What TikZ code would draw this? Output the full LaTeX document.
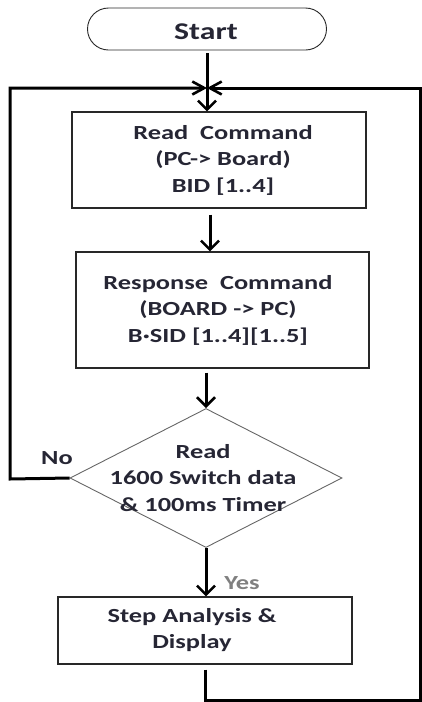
\documentclass[tikz,border=0pt]{standalone}
\usepackage{fontspec}
\setmainfont{Carlito}[FakeStretch=1.32]
\usetikzlibrary{arrows.meta,shapes.geometric}
\definecolor{txt}{RGB}{38,38,52}
\definecolor{yescol}{RGB}{128,128,128}
\definecolor{edge}{RGB}{40,40,40}
\tikzset{
  every node/.style={font=\bfseries\fontsize{20}{26.5}\selectfont, text=txt, align=center},
  procbox/.style={draw=edge, line width=1.1pt, inner sep=0pt},
  termbox/.style={draw=edge, line width=0.9pt, rounded corners=21pt, inner sep=0pt, minimum width=239pt, minimum height=42pt},
  decbox/.style={draw=black!60, line width=0.9pt, shape=diamond, inner sep=0pt, minimum width=272pt, minimum height=139pt},
  flow/.style={line width=3pt, -{Straight Barb[length=9pt,width=18pt,line width=2.6pt]}},
  looparr/.style={line width=3pt, -{Straight Barb[length=12pt,width=13pt,line width=2.6pt]}},
}
\begin{document}
\begin{tikzpicture}[x=1pt,y=-1pt]
\useasboundingbox (0,0) rectangle (422,702);
\node[termbox] (start) at (207,29) {};
\node[font=\bfseries\fontsize{24}{28}\selectfont] (starttxt) at (206,32) {Start};
\coordinate (J) at (207,88);
\node[procbox, minimum width=294pt, minimum height=96pt] (b1) at (219,160) {};
\node (b1t) at (223,160) {Read\ \ Command\\(PC-> Board)\\BID [1..4]};
\node[procbox, minimum width=293pt, minimum height=116pt] (b2) at (222.5,310) {};
\node (b2t) at (218,310) {Response\ \ Command\\(BOARD -> PC)\\B·SID [1..4][1..5]};
\node[decbox] (dia) at (206,478) {};
\node (diat) at (203,478) {Read\\1600 Switch data\\\& 100ms Timer};
\node[procbox, minimum width=294pt, minimum height=67pt] (b3) at (205,630.5) {};
\node (b3t) at (192,630) {Step Analysis \&\\Display};
\node (no) at (57,458) {No};
\node[text=yescol] (yes) at (242,583) {Yes};
\coordinate (L1) at (10,479);
\coordinate (L2) at (10,88);
\coordinate (R1) at (205,700);
\coordinate (R2) at (420,700);
\coordinate (R3) at (420,88);
% connectors
\draw[flow, shorten <=3pt] (start.south) -- (start.south |- b1.north);
\draw[flow, shorten <=6pt] (b1.south -| 210,0) -- (b2.north -| 210,0);
\draw[flow, shorten <=4pt] (b2.south -| dia.north) -- (dia.north);
\draw[flow] (dia.south) -- (b3.north -| dia.south);
\draw[looparr] (dia.west) -- (L1) -- (L2) -- (J);
\draw[looparr] (b3.south -| R1) ++(0,5) -- (R1) -- (R2) -- (R3) -- (J);
\end{tikzpicture}
\end{document}
